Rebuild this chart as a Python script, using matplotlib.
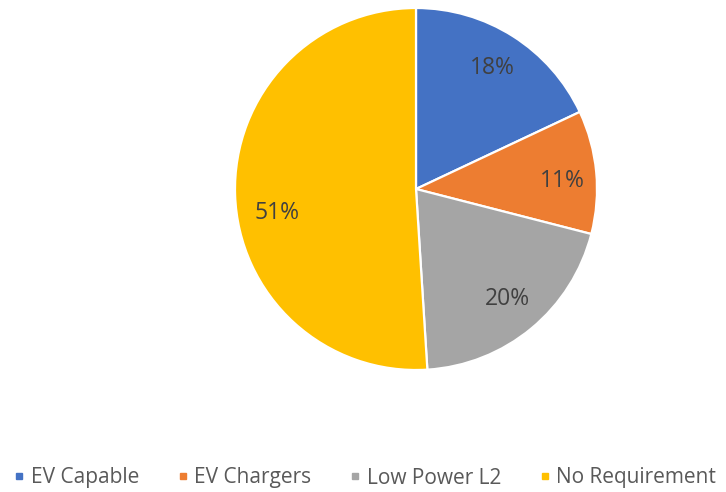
import matplotlib
matplotlib.use("Agg")
import matplotlib.pyplot as plt
from matplotlib.lines import Line2D

categories = ["EV Capable", "EV Chargers", "Low Power L2", "No Requirement"]
values = [18, 11, 20, 51]
colors = ["#4472C4", "#ED7D31", "#A5A5A5", "#FFC000"]

plt.rcParams['font.family'] = ['Open Sans', 'DejaVu Sans']

W, H = 726, 492
fig = plt.figure(figsize=(W / 100, H / 100), dpi=100)
cx, cy, r = 416, 189, 181
ax = fig.add_axes([(cx - r) / W, 1 - (cy + r) / H, 2 * r / W, 2 * r / H])

wedges, texts, autotexts = ax.pie(
    values, colors=colors, startangle=90, counterclock=False,
    autopct=lambda p: f"{p:.0f}%", pctdistance=0.79,
    wedgeprops=dict(edgecolor="white", linewidth=1.6),
    textprops=dict(color="#404040", fontsize=16.5))
ax.set_xlim(-1.0, 1.0)
ax.set_ylim(-1.0, 1.0)
ax.set_aspect("equal")

# best-fit style nudges of label placement
x, y = autotexts[1].get_position()
autotexts[1].set_position((x + 0.02, y - 0.03))
x, y = autotexts[3].get_position()
autotexts[3].set_position((x + 0.02, y - 0.11))

handles = [Line2D([], [], marker="s", linestyle="none", markersize=5,
                  markerfacecolor=c, markeredgecolor=c) for c in colors]
leg = fig.legend(handles, categories, loc="center", ncol=4,
                 bbox_to_anchor=(0.503, 1 - 478 / H), frameon=False,
                 fontsize=15, labelcolor="#595959",
                 handlelength=0.5, handletextpad=0.3, columnspacing=1.85,
                 borderaxespad=0, borderpad=0)

fig.savefig("out.png", dpi=100, facecolor="white")
